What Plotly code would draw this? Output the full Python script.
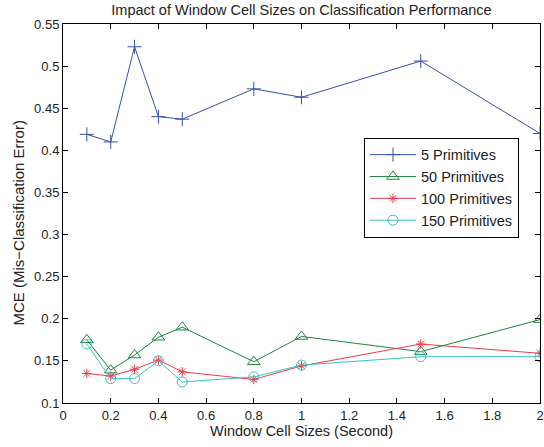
import plotly.graph_objects as go

x_sizes = [0.1, 0.2, 0.3, 0.4, 0.5, 0.8, 1.0, 1.5, 2.0]
mce_5 = [0.419, 0.410, 0.523, 0.440, 0.437, 0.473, 0.463, 0.506, 0.420]
mce_50 = [0.175, 0.139, 0.157, 0.178, 0.190, 0.149, 0.179, 0.161, 0.199]
mce_100 = [0.135, 0.132, 0.140, 0.151, 0.137, 0.128, 0.144, 0.170, 0.159]
mce_150 = [0.170, 0.129, 0.129, 0.150, 0.125, 0.131, 0.145, 0.155, 0.155]
series_names = ["5 Primitives", "50 Primitives", "100 Primitives", "150 Primitives"]
x_ticks = [0, 0.2, 0.4, 0.6, 0.8, 1.0, 1.2, 1.4, 1.6, 1.8, 2.0]
y_ticks = [0.1, 0.15, 0.2, 0.25, 0.3, 0.35, 0.4, 0.45, 0.5, 0.55]

colors = ["#3451ad", "#1c8541", "#ef3a47", "#3cc2c2"]
symbols = ["cross-thin-open", "triangle-up-open", "asterisk-open", "circle-open"]
sizes = [10, 11, 8, 10]

fig = go.Figure()
for name, ys, c, s, sz in zip(series_names, [mce_5, mce_50, mce_100, mce_150], colors, symbols, sizes):
    fig.add_trace(go.Scatter(
        x=x_sizes, y=ys, name=name, mode="lines+markers",
        line=dict(color=c, width=1),
        marker=dict(symbol=s, size=sz, color=c, line=dict(color=c, width=1)),
    ))

axis_common = dict(
    showline=True, linecolor="black", linewidth=1, mirror="ticks",
    ticks="inside", ticklen=5, tickcolor="black", showgrid=False, zeroline=False,
    tickfont=dict(size=13, color="#222"), automargin=False, ticklabeloverflow="allow",
)
fig.update_layout(
    width=544, height=447,
    margin=dict(l=63, r=4, t=24, b=44),
    paper_bgcolor="white", plot_bgcolor="white",
    font=dict(family="Liberation Sans, Arial, sans-serif", size=13, color="#222"),
    title=dict(text="Impact of Window Cell Sizes on Classification Performance",
               x=301.5 / 544, xanchor="center", xref="container",
               y=1 - 10 / 447, yanchor="middle", yref="container",
               font=dict(size=14.5)),
    xaxis=dict(range=[0, 2], tickvals=x_ticks,
               title=dict(text="Window Cell Sizes (Second)", standoff=2, font=dict(size=14.5)),
               **axis_common),
    yaxis=dict(range=[0.1, 0.55], tickvals=y_ticks, **axis_common),
    legend=dict(x=0.631, y=0.70, xanchor="left", yanchor="top",
                bordercolor="black", borderwidth=1, bgcolor="white",
                font=dict(size=14.5), tracegroupgap=0, itemwidth=46),
    showlegend=True,
    annotations=[dict(text="MCE (Mis\u2212Classification Error)", textangle=-90,
                      xref="paper", yref="paper", x=(17.5 - 63) / 477, y=(403 - 223) / 379,
                      xanchor="center", yanchor="middle", showarrow=False,
                      font=dict(size=15))],
)
fig.write_html("out.html", config={"displayModeBar": False},
               post_script="document.body.style.margin='0';")
